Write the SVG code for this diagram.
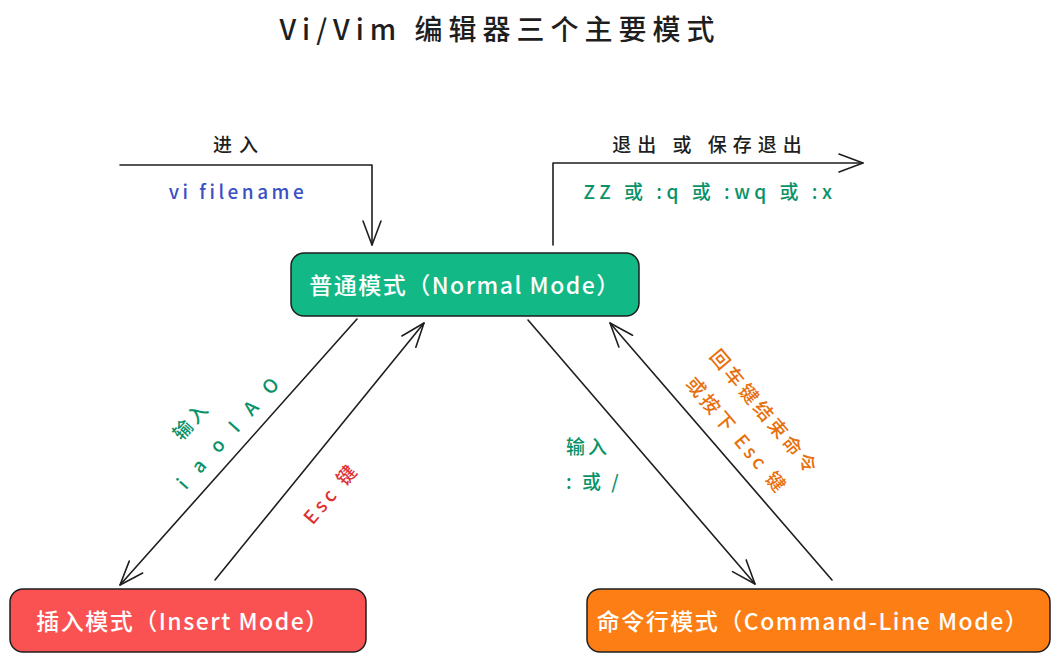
<svg xmlns="http://www.w3.org/2000/svg" width="1059" height="662" viewBox="0 0 1059 662">
<defs>
<marker id="arr" markerUnits="userSpaceOnUse" markerWidth="40" markerHeight="40" refX="0" refY="0" viewBox="-30 -20 40 40" orient="auto" overflow="visible">
<path d="M-24,-9 L0,0 L-24,9" fill="none" stroke="#1e1e1e" stroke-width="1.6" stroke-linecap="round" stroke-linejoin="round"/>
</marker>
<style>
text{font-family:"Noto Sans CJK SC","Noto Sans",sans-serif;}
.node{stroke:#1e1e1e;stroke-width:1.5;}
.nt{fill:#ffffff;font-size:23px;font-weight:500;text-anchor:middle;dominant-baseline:central;letter-spacing:1.5px;}
.conn{fill:none;stroke:#1e1e1e;stroke-width:1.6;stroke-linecap:round;stroke-linejoin:round;}
.lbl{font-size:19px;font-weight:500;text-anchor:middle;dominant-baseline:central;}
.blk{fill:#1e1e1e;}
.grn{fill:#099268;}
.blu{fill:#3b4fc4;}
.red{fill:#e03131;}
.org{fill:#e8700c;}
</style>
</defs>
<rect width="1059" height="662" fill="#ffffff"/>
<text x="500" y="28" font-size="28" font-weight="500" class="blk" text-anchor="middle" dominant-baseline="central" letter-spacing="6">Vi/Vim 编辑器三个主要模式</text>

<g id="connectors">
<path class="conn" d="M120 165 L372 165 L372 245" marker-end="url(#arr)"/>
<path class="conn" d="M553 245 L553 163 L863 163" marker-end="url(#arr)"/>
<path class="conn" d="M357 319 L120 585" marker-end="url(#arr)"/>
<path class="conn" d="M215 580 L424 323" marker-end="url(#arr)"/>
<path class="conn" d="M528 320 L755 584" marker-end="url(#arr)"/>
<path class="conn" d="M832 580 L610 323" marker-end="url(#arr)"/>
</g>

<g id="labels">
<text x="239" y="143" class="lbl blk" letter-spacing="7">进入</text>
<text x="238" y="190" class="lbl blu" letter-spacing="3.5">vi filename</text>
<text x="710" y="143" class="lbl blk" letter-spacing="6">退出 或 保存退出</text>
<text x="710" y="190" class="lbl grn" letter-spacing="4.5">ZZ 或 :q 或 :wq 或 :x</text>
<g transform="translate(210,424) rotate(-48)">
<text x="-10" y="-18" class="lbl grn" letter-spacing="3">输入</text>
<text x="8" y="18" class="lbl grn" letter-spacing="6">i a o I A O</text>
</g>
<g transform="translate(330,492) rotate(-50)">
<text x="0" y="0" class="lbl red" letter-spacing="4">Esc 键</text>
</g>
<text x="566" y="445" class="lbl grn" style="text-anchor:start" letter-spacing="3">输入</text>
<text x="566" y="480" class="lbl grn" style="text-anchor:start" letter-spacing="3">: 或 /</text>
<g transform="translate(752,423) rotate(50)">
<text x="0" y="-18" class="lbl org" letter-spacing="3.5">回车键结束命令</text>
<text x="0" y="18" class="lbl org" letter-spacing="3.5">或按下 Esc 键</text>
</g>
</g>

<g id="normal">
<rect class="node" x="291" y="253" width="348" height="63" rx="13" fill="#12b886"/>
<text class="nt" x="465" y="284">普通模式（Normal Mode）</text>
</g>
<g id="insert">
<rect class="node" x="10" y="589" width="356" height="63" rx="13" fill="#fa5252"/>
<text class="nt" x="183" y="620">插入模式（Insert Mode）</text>
</g>
<g id="command">
<rect class="node" x="587" y="589" width="463" height="63" rx="13" fill="#fd7e14"/>
<text class="nt" x="813" y="620">命令行模式（Command-Line Mode）</text>
</g>
</svg>
